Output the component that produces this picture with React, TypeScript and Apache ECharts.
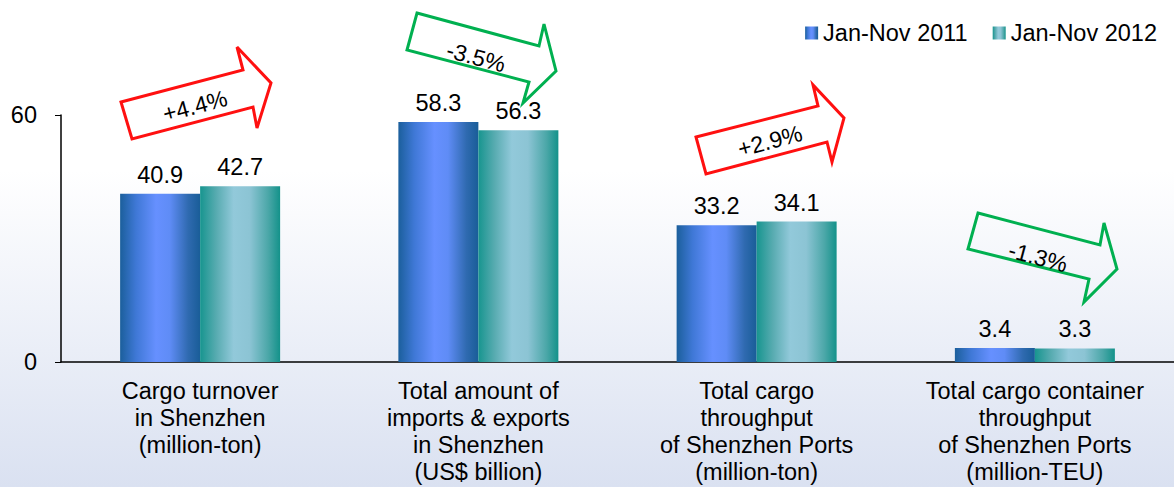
import React, { useEffect, useRef } from "react";
import * as echarts from "echarts";

const categories = [
  "Cargo turnover\nin Shenzhen\n(million-ton)",
  "Total amount of\nimports & exports\nin Shenzhen\n(US$ billion)",
  "Total cargo\nthroughput\nof Shenzhen Ports\n(million-ton)",
  "Total cargo container\nthroughput\nof Shenzhen Ports\n(million-TEU)",
];
const seriesNames = ["Jan-Nov 2011", "Jan-Nov 2012"];
const values2011 = [40.9, 58.3, 33.2, 3.4];
const values2012 = [42.7, 56.3, 34.1, 3.3];
const changeLabels = ["+4.4%", "-3.5%", "+2.9%", "-1.3%"];
const yTicks = [0, 60];

const FONT = "Liberation Sans, Arial, sans-serif";
const FS = 23.5;

const blueGrad = new echarts.graphic.LinearGradient(0, 0, 1, 0, [
  { offset: 0, color: "#1b5f9c" },
  { offset: 0.2, color: "#3f78d6" },
  { offset: 0.45, color: "#6690ff" },
  { offset: 0.62, color: "#5f8cf6" },
  { offset: 0.85, color: "#2f6ab0" },
  { offset: 1, color: "#195d98" },
]);
const tealGrad = new echarts.graphic.LinearGradient(0, 0, 1, 0, [
  { offset: 0, color: "#17958f" },
  { offset: 0.2, color: "#57abb0" },
  { offset: 0.42, color: "#92c9da" },
  { offset: 0.62, color: "#8cc4d4" },
  { offset: 0.85, color: "#4ba7a8" },
  { offset: 1, color: "#13928a" },
]);

// annotation arrows (pixel geometry)
const arrowShapes = [
  { color: "#ff1010", pts: [[121, 102], [243, 70], [237, 47], [271, 83], [257, 128], [253, 107], [132, 139]], tx: 195, ty: 106, rot: 0.257 },
  { color: "#00b050", pts: [[417, 13], [539, 46], [544, 24], [556, 71], [523, 103], [529, 82], [407, 50]], tx: 476, ty: 57, rot: -0.262 },
  { color: "#ff1010", pts: [[696, 137], [818, 106], [813, 85], [844, 118], [832, 162], [827, 142], [706, 174]], tx: 770, ty: 141, rot: 0.257 },
  { color: "#00b050", pts: [[978, 213], [1100, 245], [1104, 223], [1117, 269], [1084, 302], [1089, 279], [968, 249]], tx: 1038, ty: 257, rot: -0.262 },
];

export default function App() {
  const ref = useRef<HTMLDivElement>(null);
  useEffect(() => {
    document.body.style.margin = "0";
    const chart = echarts.init(ref.current!, null, { renderer: "svg" });
    const graphics: any[] = [];
    arrowShapes.forEach((a, i) => {
      graphics.push({
        type: "polygon",
        shape: { points: a.pts },
        style: { fill: "rgba(255,255,255,0)", stroke: a.color, lineWidth: 3, lineJoin: "miter" },
        z: 10,
      });
      graphics.push({
        type: "text",
        x: a.tx,
        y: a.ty,
        rotation: a.rot,
        style: {
          text: changeLabels[i],
          fontSize: 23,
          fontFamily: FONT,
          fill: "#000",
          align: "center",
          verticalAlign: "middle",
        },
        z: 11,
      });
    });
    chart.setOption({
      animation: false,
      backgroundColor: new echarts.graphic.LinearGradient(0, 0, 0, 1, [
        { offset: 0, color: "#ffffff" },
        { offset: 0.35, color: "#ffffff" },
        { offset: 1, color: "#dae1f1" },
      ]),
      textStyle: { fontFamily: FONT },
      legend: {
        data: seriesNames,
        right: 12,
        top: 16,
        itemWidth: 13,
        itemHeight: 13,
        itemGap: 25,
        icon: "rect",
        textStyle: { fontSize: FS, color: "#000", fontFamily: FONT },
      },
      grid: { left: 61, top: 115, bottom: 125, right: -3 },
      xAxis: {
        type: "category",
        data: categories,
        axisLine: { lineStyle: { color: "#000", width: 1.5 } },
        axisTick: { show: false },
        axisLabel: {
          fontSize: FS,
          lineHeight: 27,
          color: "#000",
          margin: 15,
          interval: 0,
          fontFamily: FONT,
        },
      },
      yAxis: {
        type: "value",
        min: yTicks[0],
        max: yTicks[1],
        interval: 60,
        splitLine: { show: false },
        axisLine: { show: true, lineStyle: { color: "#000", width: 1.5 } },
        axisTick: { show: true, length: 6, lineStyle: { color: "#000" } },
        axisLabel: { fontSize: FS, color: "#000", margin: 24, fontFamily: FONT },
      },
      series: [
        {
          name: seriesNames[0],
          type: "bar",
          data: values2011,
          barWidth: 80,
          barGap: "0%",
          itemStyle: { color: blueGrad },
          label: { show: true, position: "top", distance: 7, fontSize: FS, color: "#000", fontFamily: FONT },
        },
        {
          name: seriesNames[1],
          type: "bar",
          data: values2012,
          barWidth: 80,
          barGap: "0%",
          itemStyle: { color: tealGrad },
          label: { show: true, position: "top", distance: 7, fontSize: FS, color: "#000", fontFamily: FONT },
        },
      ],
      graphic: graphics,
    });
    return () => chart.dispose();
  }, []);
  return <div ref={ref} style={{ width: 1174, height: 487 }} />;
}
